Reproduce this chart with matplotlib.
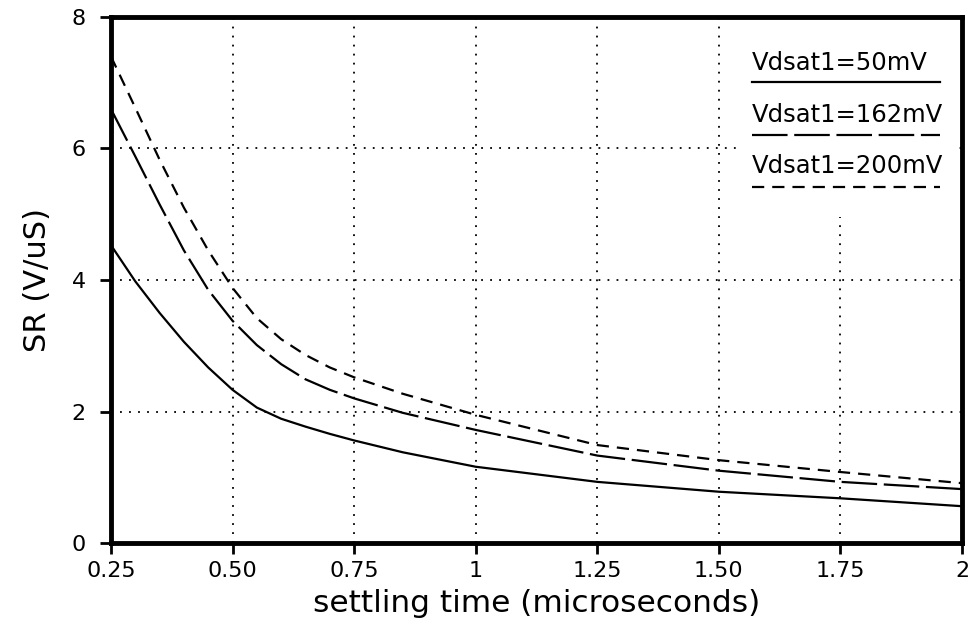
import numpy as np
import matplotlib
matplotlib.use("Agg")
import matplotlib.pyplot as plt
from matplotlib.patches import Rectangle

# settling time (microseconds)
t = [0.25, 0.30, 0.35, 0.40, 0.45, 0.50, 0.55, 0.60, 0.65, 0.70, 0.75, 0.85, 1.00, 1.25, 1.50, 1.75, 2.00]

# slew rate (V/uS)
sr_50 = [4.53, 3.98, 3.50, 3.06, 2.67, 2.33, 2.06, 1.89, 1.77, 1.66, 1.56, 1.38, 1.16, 0.93, 0.78, 0.68, 0.56]
sr_162 = [6.60, 5.88, 5.15, 4.45, 3.85, 3.38, 3.01, 2.72, 2.49, 2.33, 2.20, 1.98, 1.72, 1.33, 1.10, 0.93, 0.82]
sr_200 = [7.40, 6.62, 5.83, 5.10, 4.45, 3.88, 3.42, 3.10, 2.86, 2.67, 2.52, 2.27, 1.95, 1.49, 1.26, 1.08, 0.91]

labels = ["Vdsat1=50mV", "Vdsat1=162mV", "Vdsat1=200mV"]
xticks = [0.25, 0.5, 0.75, 1, 1.25, 1.5, 1.75, 2]
xticklabels = ["0.25", "0.50", "0.75", "1", "1.25", "1.50", "1.75", "2"]
yticks = [0, 2, 4, 6, 8]

fig = plt.figure(figsize=(9.75, 6.34), dpi=100)
ax = fig.add_axes([0.1138, 0.1435, 0.8729, 0.8297])

lw = 1.6
styles = ["-", (0, (16, 3)), (0, (5.5, 3.6))]
for y, ls in zip([sr_50, sr_162, sr_200], styles):
    ax.plot(t, y, color="black", lw=lw, linestyle=ls, zorder=3)

ax.set_xlim(0.25, 2)
ax.set_ylim(0, 8)
ax.set_xticks(xticks)
ax.set_xticklabels(xticklabels)
ax.set_yticks(yticks)
ax.tick_params(direction="out", length=8, width=2, labelsize=16)
ax.tick_params(axis="y", pad=10)
ax.tick_params(axis="x", pad=5)

ax.grid(True, color="black", linestyle=(0, (1, 4)), linewidth=1.3)
for s in ax.spines.values():
    s.set_linewidth(3.5)
    s.set_zorder(5)

ax.set_xlabel("settling time (microseconds)", fontsize=22.5, labelpad=6)
ax.set_ylabel("SR (V/uS)", fontsize=22, labelpad=14)

# legend box area hides the grid behind it
ax.add_patch(Rectangle((0.735, 0.62), 0.26, 0.38, transform=ax.transAxes,
                       facecolor="white", edgecolor="none", zorder=2))

# hand-drawn style legend: text with line sample underneath
text_y = [0.899, 0.800, 0.703]
line_y = [0.876, 0.776, 0.677]
for lab, ls, ty, ly in zip(labels, styles, text_y, line_y):
    ax.text(0.753, ty, lab, transform=ax.transAxes, fontsize=17.5,
            ha="left", va="baseline", zorder=4)
    ax.plot([0.753, 0.974], [ly, ly], transform=ax.transAxes,
            color="black", lw=lw, linestyle=ls, zorder=4)

fig.savefig("out.png", dpi=100)
